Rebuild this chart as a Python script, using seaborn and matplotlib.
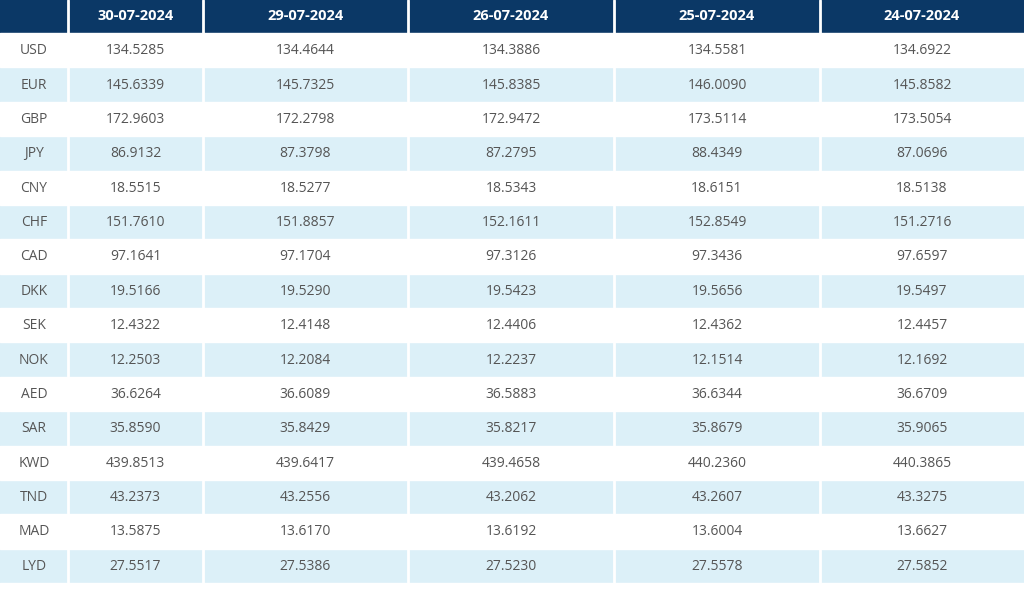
import matplotlib.pyplot as plt
import seaborn as sns
from matplotlib.patches import Rectangle

dates = ['30-07-2024', '29-07-2024', '26-07-2024', '25-07-2024', '24-07-2024']
currencies = ['USD', 'EUR', 'GBP', 'JPY', 'CNY', 'CHF', 'CAD', 'DKK',
              'SEK', 'NOK', 'AED', 'SAR', 'KWD', 'TND', 'MAD', 'LYD']

rates_30_07 = ['134.5285', '145.6339', '172.9603', '86.9132', '18.5515', '151.7610', '97.1641', '19.5166',
               '12.4322', '12.2503', '36.6264', '35.8590', '439.8513', '43.2373', '13.5875', '27.5517']
rates_29_07 = ['134.4644', '145.7325', '172.2798', '87.3798', '18.5277', '151.8857', '97.1704', '19.5290',
               '12.4148', '12.2084', '36.6089', '35.8429', '439.6417', '43.2556', '13.6170', '27.5386']
rates_26_07 = ['134.3886', '145.8385', '172.9472', '87.2795', '18.5343', '152.1611', '97.3126', '19.5423',
               '12.4406', '12.2237', '36.5883', '35.8217', '439.4658', '43.2062', '13.6192', '27.5230']
rates_25_07 = ['134.5581', '146.0090', '173.5114', '88.4349', '18.6151', '152.8549', '97.3436', '19.5656',
               '12.4362', '12.1514', '36.6344', '35.8679', '440.2360', '43.2607', '13.6004', '27.5578']
rates_24_07 = ['134.6922', '145.8582', '173.5054', '87.0696', '18.5138', '151.2716', '97.6597', '19.5497',
               '12.4457', '12.1692', '36.6709', '35.9065', '440.3865', '43.3275', '13.6627', '27.5852']

columns = [rates_30_07, rates_29_07, rates_26_07, rates_25_07, rates_24_07]

# Layout (Pixel-Koordinaten)
col_edges = [0, 68, 203, 408, 614, 820, 1024]
header_h = 33
row_h = 34.375

navy = '#0b3866'
stripe = '#dcf0f8'
text_col = '#555555'

sns.set_theme(style='white')
plt.rcParams['font.family'] = ['Open Sans', 'DejaVu Sans']

fig = plt.figure(figsize=(10.24, 5.89), dpi=100)
ax = fig.add_axes([0, 0, 1, 1])
ax.set_xlim(0, 1024)
ax.set_ylim(589, 0)
ax.axis('off')

# Kopfzeile
for c in range(len(col_edges) - 1):
    x0, x1 = col_edges[c], col_edges[c + 1]
    ax.add_patch(Rectangle((x0, 0), x1 - x0, header_h, facecolor=navy, edgecolor='none'))
    if c > 0:
        ax.text((x0 + x1) / 2, header_h / 2, dates[c - 1], ha='center', va='center',
                color='white', fontsize=10.5, fontweight='bold')

# Datenzeilen
for r, cur in enumerate(currencies):
    y0 = header_h + r * row_h
    yc = y0 + row_h / 2 + 0.5
    if r % 2 == 1:
        for c in range(len(col_edges) - 1):
            x0, x1 = col_edges[c], col_edges[c + 1]
            ax.add_patch(Rectangle((x0, y0), x1 - x0, row_h, facecolor=stripe, edgecolor='none'))
    ax.text((col_edges[0] + col_edges[1]) / 2, yc, cur, ha='center', va='center',
            color=text_col, fontsize=10)
    for c, vals in enumerate(columns):
        x0, x1 = col_edges[c + 1], col_edges[c + 2]
        ax.text((x0 + x1) / 2, yc, vals[r], ha='center', va='center',
                color=text_col, fontsize=10)

# weiße Trennlinien zwischen den Spalten
for x in col_edges[1:-1]:
    ax.axvline(x, color='white', lw=2)
for r in range(len(currencies) + 1):
    ax.axhline(header_h + r * row_h, color='white', lw=1)

fig.savefig('out.png', dpi=100, facecolor='white')
